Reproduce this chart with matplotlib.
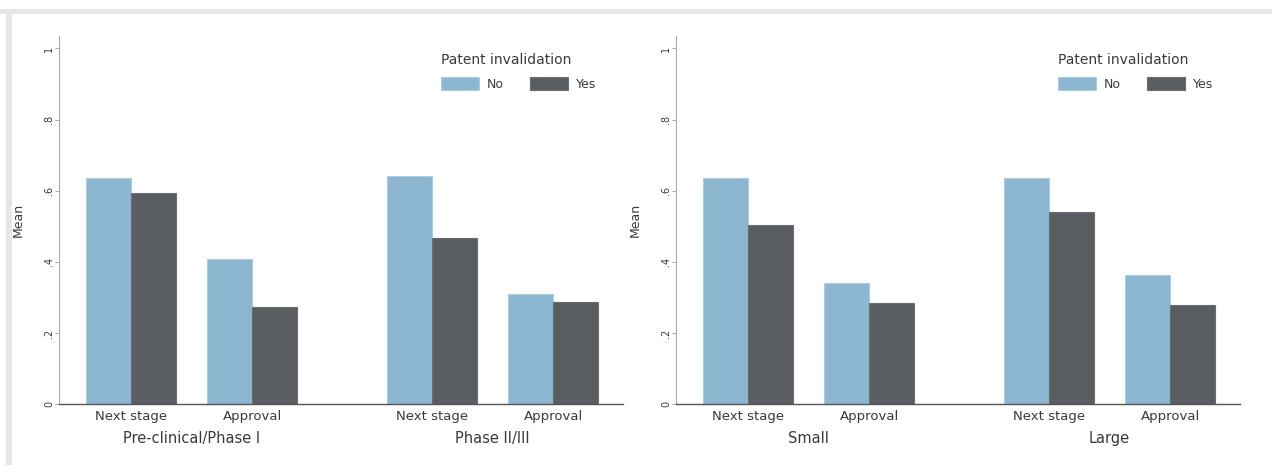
import matplotlib
matplotlib.use("Agg")
import matplotlib.pyplot as plt
from matplotlib.patches import Rectangle
import numpy as np

plt.rcParams['font.family'] = ['DejaVu Sans']

# ---- data ----
categories = ["Next stage", "Approval"]
groups_left = ["Pre-clinical/Phase I", "Phase II/III"]
groups_right = ["Small", "Large"]
series = ["No", "Yes"]
legend_title = "Patent invalidation"

# values ordered: group0-cat0, group0-cat1, group1-cat0, group1-cat1
left_no = [0.635, 0.408, 0.640, 0.310]
left_yes = [0.593, 0.272, 0.467, 0.287]
right_no = [0.635, 0.340, 0.635, 0.362]
right_yes = [0.503, 0.284, 0.540, 0.278]

yticks = [0, 0.2, 0.4, 0.6, 0.8, 1.0]
ytick_labels = ["0", ".2", ".4", ".6", ".8", "1"]
ylabel = "Mean"

# ---- style ----
c_no = "#8db6d0"
c_no_edge = "#a9cde2"
c_yes = "#5a5d61"
c_yes_edge = "#6a6d71"
txt = "#3a3a3a"
bar_w = 1.0
cat_step = 2.69
group_step = 6.69

W, H = 1272, 465
fig = plt.figure(figsize=(W / 100, H / 100), dpi=100)
fig.patch.set_facecolor("white")

# light gray frame strips (top and left)
fig.patches.append(Rectangle((0, 1 - 14 / H), 1, 5 / H, transform=fig.transFigure,
                             facecolor="#e6e6e6", edgecolor="none", zorder=-5))
fig.patches.append(Rectangle((6 / W, 0), 6 / W, 1 - 9 / H, transform=fig.transFigure,
                             facecolor="#e6e6e6", edgecolor="none", zorder=-5))

ax_bottom = (H - 404) / H
ax_height = 368 / H
ax_w = 564 / W


def draw_panel(left_px, groups, no_vals, yes_vals):
    ax = fig.add_axes([left_px / W, ax_bottom, ax_w, ax_height])
    ax.patch.set_alpha(0)
    pos = []
    for gi in range(len(groups)):
        for ci in range(len(categories)):
            pos.append(gi * group_step + ci * cat_step)
    pos = np.array(pos)
    ax.bar(pos - bar_w / 2, no_vals, width=bar_w, color=c_no, edgecolor=c_no_edge,
           linewidth=0.8, label=series[0], zorder=2)
    ax.bar(pos + bar_w / 2, yes_vals, width=bar_w, color=c_yes, edgecolor=c_yes_edge,
           linewidth=0.8, label=series[1], zorder=2)
    ax.set_xlim(-1.6, -1.6 + 564 / 45)
    ax.set_ylim(0, 1.035)
    ax.set_yticks(yticks)
    ax.set_yticklabels(ytick_labels, rotation=90, va="center", fontsize=7, color=txt)
    ax.tick_params(axis="y", length=3, width=0.6, color="#999999", pad=0.5)
    ax.set_xticks([])
    for s in ["top", "right"]:
        ax.spines[s].set_visible(False)
    ax.spines["left"].set_color("#aaaaaa")
    ax.spines["left"].set_linewidth(0.8)
    ax.spines["bottom"].set_color("#555555")
    ax.spines["bottom"].set_linewidth(1.0)
    ax.set_ylabel(ylabel, fontsize=9, color=txt, labelpad=14)
    trans = ax.get_xaxis_transform()
    for i, p in enumerate(pos):
        ax.text(p, -12 / 368, categories[i % len(categories)], transform=trans,
                ha="center", va="center", fontsize=9.5, color=txt)
    for gi, g in enumerate(groups):
        gc = pos[gi * len(categories):(gi + 1) * len(categories)].mean()
        ax.text(gc, -34 / 368, g, transform=trans, ha="center", va="center",
                fontsize=10.5, color=txt)
    leg = ax.legend(title=legend_title, loc="upper left", bbox_to_anchor=(0.678, 0.955),
                    ncol=2, frameon=False, fontsize=9, title_fontsize=10,
                    handlelength=3.0, handleheight=1.25, handletextpad=0.65,
                    columnspacing=2.1, borderpad=0, borderaxespad=0, labelspacing=0.85)
    leg._legend_box.align = "left"
    for t in leg.get_texts():
        t.set_color(txt)
    leg.get_title().set_color(txt)
    return ax


draw_panel(59, groups_left, left_no, left_yes)
draw_panel(676, groups_right, right_no, right_yes)

fig.savefig("out.png", dpi=100)
